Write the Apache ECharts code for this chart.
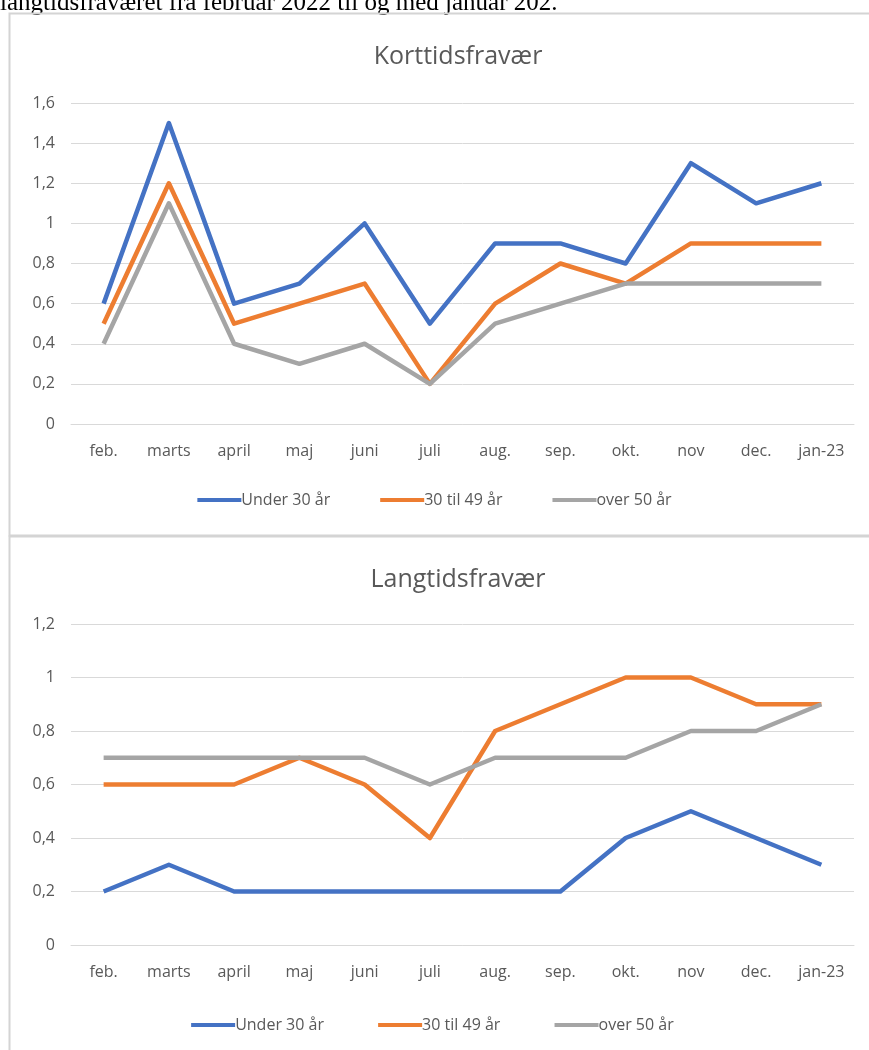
<!DOCTYPE html>
<html>
<head>
    <meta charset="utf-8">
    <title>Fravær</title>
    <script src="https://cdn.jsdelivr.net/npm/echarts@6/dist/echarts.min.js"></script>
    <style>
        html, body { margin: 0; padding: 0; background: #fff; }
        #main { width: 869px; height: 1050px; }
    </style>
</head>
<body>
<div id="main"></div>
<script type="text/javascript">
    // months on the x axis
    var months = ['feb.', 'marts', 'april', 'maj', 'juni', 'juli', 'aug.', 'sep.', 'okt.', 'nov', 'dec.', 'jan-23'];
    var seriesNames = ['Under 30 år', '30 til 49 år', 'over 50 år'];

    // Korttidsfravær
    var kortUnder30 = [0.6, 1.5, 0.6, 0.7, 1.0, 0.5, 0.9, 0.9, 0.8, 1.3, 1.1, 1.2];
    var kort30til49 = [0.5, 1.2, 0.5, 0.6, 0.7, 0.2, 0.6, 0.8, 0.7, 0.9, 0.9, 0.9];
    var kortOver50 = [0.4, 1.1, 0.4, 0.3, 0.4, 0.2, 0.5, 0.6, 0.7, 0.7, 0.7, 0.7];

    // Langtidsfravær
    var langUnder30 = [0.2, 0.3, 0.2, 0.2, 0.2, 0.2, 0.2, 0.2, 0.4, 0.5, 0.4, 0.3];
    var lang30til49 = [0.6, 0.6, 0.6, 0.7, 0.6, 0.4, 0.8, 0.9, 1.0, 1.0, 0.9, 0.9];
    var langOver50 = [0.7, 0.7, 0.7, 0.7, 0.7, 0.6, 0.7, 0.7, 0.7, 0.8, 0.8, 0.9];

    var colors = ['#4472C4', '#ED7D31', '#A5A5A5'];
    var font = '"Open Sans", sans-serif';
    var txt = '#595959';

    function fmt(v) {
        return String(v).replace('.', ',');
    }

    function xAxisFor(idx) {
        return {
            type: 'category',
            gridIndex: idx,
            data: months,
            axisTick: {show: false},
            axisLine: {lineStyle: {color: '#d9d9d9'}},
            axisLabel: {color: txt, fontFamily: font, fontSize: 16, margin: 19, interval: 0}
        };
    }

    function yAxisFor(idx, max) {
        return {
            type: 'value',
            gridIndex: idx,
            min: 0,
            max: max,
            interval: 0.2,
            axisLine: {show: false},
            axisTick: {show: false},
            splitLine: {lineStyle: {color: '#d9d9d9'}},
            axisLabel: {color: txt, fontFamily: font, fontSize: 16, margin: 16, formatter: function (v) {
                return fmt(+v.toFixed(1));
            }}
        };
    }

    function lineFor(name, data, idx, color) {
        return {
            name: name,
            type: 'line',
            xAxisIndex: idx,
            yAxisIndex: idx,
            data: data,
            showSymbol: false,
            symbol: 'none',
            color: color,
            lineStyle: {width: 4.5, color: color, join: 'round'},
            emphasis: {disabled: true}
        };
    }

    var legendCommon = {
        icon: 'rect',
        itemWidth: 44,
        itemHeight: 4,
        itemGap: 50,
        textStyle: {color: txt, fontFamily: font, fontSize: 16, padding: [0, 0, 0, -5]}
    };

    var chart = echarts.init(document.getElementById('main'));
    var option = {
        animation: false,
        graphic: [
            {
                type: 'text', left: 0, top: -9,
                style: {text: 'langtidsfraværet fra februar 2022 til og med januar 202.', font: '25px "Liberation Serif", serif', fill: '#000'}
            },
            {
                type: 'rect', shape: {x: 9.5, y: 13.5, width: 880, height: 522},
                style: {fill: 'none', stroke: '#d4d4d4', lineWidth: 2}
            },
            {
                type: 'rect', shape: {x: 9.5, y: 536.5, width: 880, height: 530},
                style: {fill: 'none', stroke: '#d4d4d4', lineWidth: 2}
            }
        ],
        title: [
            {text: 'Korttidsfravær', left: 453, top: 39, textAlign: 'center',
                textStyle: {color: txt, fontFamily: font, fontSize: 25, fontWeight: 'normal'}},
            {text: 'Langtidsfravær', left: 453, top: 562, textAlign: 'center',
                textStyle: {color: txt, fontFamily: font, fontSize: 25, fontWeight: 'normal'}}
        ],
        legend: [
            Object.assign({top: 487, left: 'center'}, legendCommon, {
                data: seriesNames.slice()
            }),
            Object.assign({top: 1012, left: 'center'}, legendCommon, {
                data: seriesNames.map(function (n) { return n + ' '; })
            })
        ],
        grid: [
            {left: 71, right: 15, top: 103, bottom: 626},
            {left: 71, right: 15, top: 624, bottom: 105}
        ],
        xAxis: [xAxisFor(0), xAxisFor(1)],
        yAxis: [yAxisFor(0, 1.6), yAxisFor(1, 1.2)],
        series: [
            lineFor(seriesNames[0], kortUnder30, 0, colors[0]),
            lineFor(seriesNames[1], kort30til49, 0, colors[1]),
            lineFor(seriesNames[2], kortOver50, 0, colors[2]),
            lineFor(seriesNames[0] + ' ', langUnder30, 1, colors[0]),
            lineFor(seriesNames[1] + ' ', lang30til49, 1, colors[1]),
            lineFor(seriesNames[2] + ' ', langOver50, 1, colors[2])
        ]
    };
    chart.setOption(option);
</script>
</body>
</html>
